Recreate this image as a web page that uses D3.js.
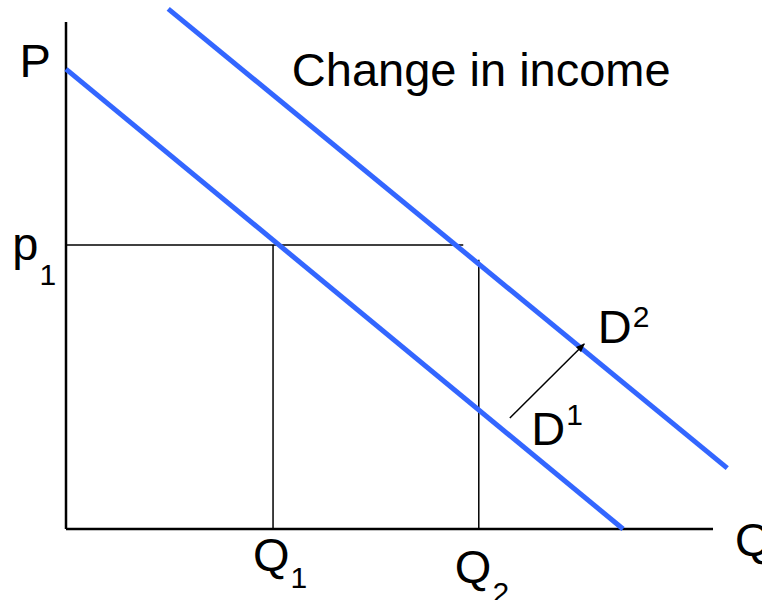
<!DOCTYPE html>
<html>
<head>
<meta charset="utf-8">
<script src="https://cdn.jsdelivr.net/npm/d3@7"></script>
<style>
  body { margin: 0; background: #fff; }
  text { font-family: "Liberation Sans", Arial, sans-serif; fill: #000; }
</style>
</head>
<body>
<div id="container"></div>
<script>
/* CONSTANTS AND GLOBALS */
const width = 762,
  height = 600,
  margin = { top: 22, bottom: 71, left: 66, right: 49 };

// demand curves, in (quantity, price) units
const demand1 = [[0, 9.07], [8.61, 0]];
const demand2 = [[1.58, 10.26], [10.22, 1.20]];

// equilibrium guides
const p1 = 5.60;
const p1End = 6.14;
const q1 = 3.20;
const q2 = 6.38;
const q2Top = 5.31;

// shift arrow
const shift = [[6.86, 2.19], [8.01, 3.65]];

// labels: [main, sub/sup, x, y, shift of the small part]
const labels = [
  ["P", "", -0.72, 8.91, 0],
  ["p", "1", -0.83, 5.31, 25],
  ["Q", "1", 2.89, -0.83, 17],
  ["Q", "2", 6.01, -1.07, 20],
  ["Q", "", 10.34, -0.53, 0],
  ["D", "2", 8.22, 3.67, -16],
  ["D", "1", 7.19, 1.66, -20]
];
const title = "Change in income";
const titlePos = [3.49, 8.74];

/* SCALES */
const xScale = d3.scaleLinear()
  .domain([0, 10])
  .range([margin.left, width - margin.right]);

const yScale = d3.scaleLinear()
  .domain([0, 10])
  .range([height - margin.bottom, margin.top]);

const line = d3.line()
  .x(d => xScale(d[0]))
  .y(d => yScale(d[1]));

/* SVG */
const svg = d3.select("#container")
  .append("svg")
  .attr("width", width)
  .attr("height", height);

svg.append("defs").append("marker")
  .attr("id", "arrow")
  .attr("viewBox", "0 0 10 10")
  .attr("refX", 9)
  .attr("refY", 5)
  .attr("markerWidth", 6)
  .attr("markerHeight", 6)
  .attr("orient", "auto")
  .append("path")
  .attr("d", "M0,1 L10,5 L0,9 Z")
  .attr("fill", "#000");

// axes (plain lines, no ticks)
svg.append("line")
  .attr("x1", xScale(0)).attr("y1", yScale(0))
  .attr("x2", xScale(0)).attr("y2", yScale(10))
  .attr("stroke", "#000").attr("stroke-width", 2.5);

svg.append("line")
  .attr("x1", xScale(0)).attr("y1", yScale(0))
  .attr("x2", xScale(10)).attr("y2", yScale(0))
  .attr("stroke", "#000").attr("stroke-width", 2.5);

// guide lines
svg.append("line")
  .attr("x1", xScale(0)).attr("y1", yScale(p1))
  .attr("x2", xScale(p1End)).attr("y2", yScale(p1))
  .attr("stroke", "#000").attr("stroke-width", 1.5);

svg.append("line")
  .attr("x1", xScale(q1)).attr("y1", yScale(p1))
  .attr("x2", xScale(q1)).attr("y2", yScale(0))
  .attr("stroke", "#000").attr("stroke-width", 1.5);

svg.append("line")
  .attr("x1", xScale(q2)).attr("y1", yScale(q2Top))
  .attr("x2", xScale(q2)).attr("y2", yScale(0))
  .attr("stroke", "#000").attr("stroke-width", 1.5);

// demand curves
svg.selectAll("path.demand")
  .data([demand1, demand2])
  .join("path")
  .attr("class", "demand")
  .attr("d", line)
  .attr("fill", "none")
  .attr("stroke", "#3366ff")
  .attr("stroke-width", 5);

// shift arrow
svg.append("path")
  .attr("d", line(shift))
  .attr("fill", "none")
  .attr("stroke", "#000")
  .attr("stroke-width", 1.5)
  .attr("marker-end", "url(#arrow)");

// title
svg.append("text")
  .attr("x", xScale(titlePos[0]))
  .attr("y", yScale(titlePos[1]))
  .attr("font-size", 47)
  .text(title);

// axis / curve labels
labels.forEach(([main, small, x, y, dy]) => {
  const t = svg.append("text")
    .attr("x", xScale(x))
    .attr("y", yScale(y))
    .attr("font-size", 47)
    .text(main);
  if (small) {
    t.append("tspan")
      .attr("font-size", 30)
      .attr("dx", 1)
      .attr("dy", dy)
      .text(small);
  }
});
</script>
</body>
</html>
